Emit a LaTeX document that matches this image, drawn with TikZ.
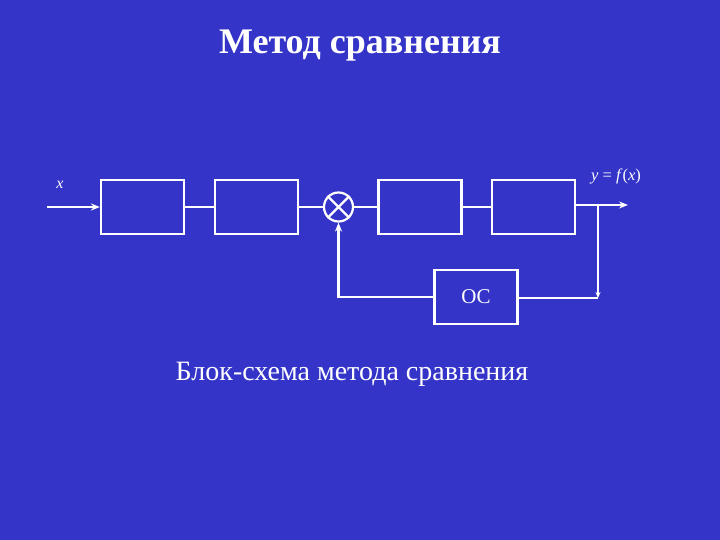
\documentclass[tikz,border=0pt]{standalone}
\usepackage{fontspec}
\setmainfont{Liberation Serif}
\usepackage{xcolor}
\usetikzlibrary{positioning, arrows.meta, calc}
\definecolor{slidebg}{HTML}{3434C8}

\begin{document}
\begin{tikzpicture}[
    x=1pt, y=-1pt,
    blk/.style={draw=white, line width=2.2pt, minimum width=83pt, minimum height=54pt, inner sep=0pt, text=white},
    wire/.style={draw=white, line width=2.2pt},
    arr/.style={wire, -{Stealth[length=9pt, width=7pt]}},
    lbl/.style={text=white, inner sep=0pt}
]
    \fill[slidebg] (0,0) rectangle (720,540);
    \node[lbl, font=\fontsize{36}{40}\selectfont\bfseries] (title) at (360,46) {Метод сравнения};

    \node[blk] (b1) at (142.5,207) {};
    \node[blk] (b2) at (256.5,207) {};
    \node[draw=white, line width=2.2pt, circle, minimum size=29pt, inner sep=0pt] (sum) at (338.5,207) {};
    \draw[wire] (sum.north west) -- (sum.south east);
    \draw[wire] (sum.north east) -- (sum.south west);
    \node[blk] (b3) at (420,207) {};
    \node[blk] (b4) at (533.5,207) {};
    \node[blk, font=\fontsize{21}{24}\selectfont] (oc) at (476,297) {ОС};

    \coordinate (in) at (47,207);
    \coordinate (out) at (628,205);
    \coordinate (tap) at (598,205);
    \coordinate (down) at (598,298);
    \coordinate (back) at (338.5,297);

    \node[lbl, font=\fontsize{16}{18}\selectfont\itshape] (xin) at (60,185) {x};
    \node[lbl, font=\fontsize{16.5}{19}\selectfont] (yout) at (616,176) {\textit{y} = \textit{f}(\textit{x})};

    \draw[arr] (in) -- (b1.west);
    \draw[wire] (b1.east) -- (b2.west);
    \draw[wire] (b2.east) -- (sum.west);
    \draw[wire] (sum.east) -- (b3.west);
    \draw[wire] (b3.east) -- (b4.west);
    \draw[arr] (b4.east |- out) -- (out);
    \draw[wire, -{Stealth[length=6pt, width=5pt]}] (tap) -- (down);
    \draw[wire] (down) -- (oc.east |- down);
    \draw[arr] (oc.west) -- (back) -- (sum.south);

    \node[lbl, font=\fontsize{28}{32}\selectfont] (caption) at (352,374) {Блок-схема метода сравнения};
\end{tikzpicture}
\end{document}
